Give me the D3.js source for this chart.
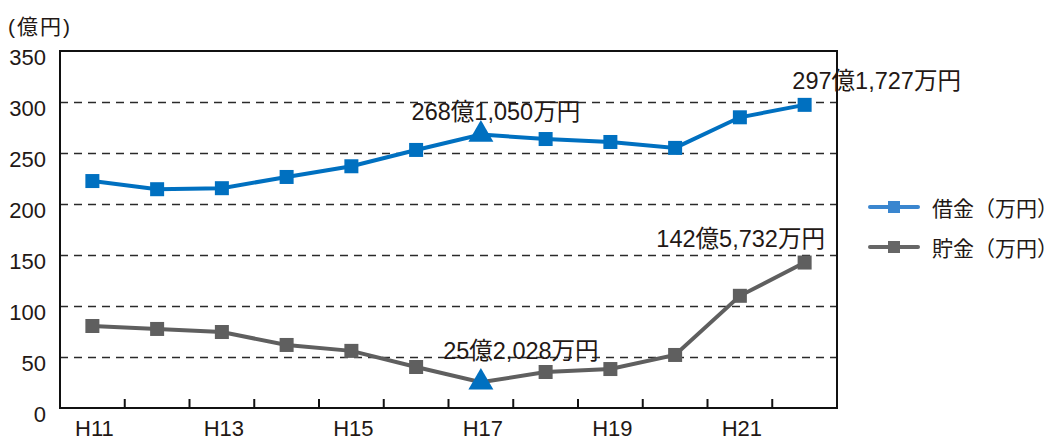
<!DOCTYPE html>
<html><head><meta charset="utf-8">
<script src="https://cdn.jsdelivr.net/npm/d3@7"></script>
<style>
body{margin:0;background:#fff;}
text{font-family:"Liberation Sans","Noto Sans CJK JP",sans-serif;fill:#231815;}
</style></head>
<body>
<svg id="chart" width="1050" height="437"></svg>
<script>
const categories = ["H11","H12","H13","H14","H15","H16","H17","H18","H19","H20","H21","H22"];
const tickLabels = ["H11","H13","H15","H17","H19","H21"];
const borrowing = [222.5, 214.5, 215.5, 226.5, 237, 253, 268.1, 263.7, 260.8, 255, 285, 297.2];
const savings = [80.4, 77.5, 74.5, 61.8, 56, 40.2, 25.2, 35.3, 38.2, 52, 110, 142.6];
const yTicks = [0,50,100,150,200,250,300,350];
const seriesNames = ["借金（万円）","貯金（万円）"];
const highlightIndex = 6;
const annotations = [
  {series:0, index:6, text:"268億1,050万円"},
  {series:0, index:11, text:"297億1,727万円"},
  {series:1, index:11, text:"142億5,732万円"},
  {series:1, index:6, text:"25億2,028万円"}
];

const svg = d3.select("#chart");
const L=60, R=837, T=51, B=408;
const x = d3.scaleBand().domain(categories).range([L,R]);
const y = d3.scaleLinear().domain([0,350]).range([B,T]);
const colors = ["#0070C0","#5F5F5F"];
const legendColors = ["#3A86CF","#666666"];

// grid
svg.append("g").selectAll("line").data(yTicks.filter(v=>v>0&&v<350)).join("line")
  .attr("x1",L).attr("x2",R).attr("y1",d=>Math.round(y(d))+0.5).attr("y2",d=>Math.round(y(d))+0.5)
  .attr("stroke","#2a2a2a").attr("stroke-width",1.3).attr("stroke-dasharray","8,6");

// frame
svg.append("rect").attr("x",L).attr("y",T).attr("width",R-L).attr("height",B-T)
  .attr("fill","none").attr("stroke","#111").attr("stroke-width",2);

// x ticks (boundaries)
const bounds = categories.slice(1).map(c=>x(c));
svg.append("g").selectAll("line").data(bounds).join("line")
  .attr("x1",d=>d).attr("x2",d=>d).attr("y1",B).attr("y2",B-9)
  .attr("stroke","#111").attr("stroke-width",2);

// y labels
svg.append("g").selectAll("text").data(yTicks).join("text")
  .attr("x",46).attr("y",d=>y(d)+14).attr("text-anchor","end")
  .attr("font-size",22).text(d=>d);
svg.append("text").attr("x",8).attr("y",34).attr("font-size",21)
  .attr("letter-spacing",2).text("(億円)");

// x labels
svg.append("g").selectAll("text").data(tickLabels).join("text")
  .attr("x",d=>x(d)+x.bandwidth()/2+2).attr("y",436).attr("text-anchor","middle")
  .attr("font-size",22).text(d=>d);

const cx = c=>x(c)+x.bandwidth()/2;
const line = d3.line().x((d,i)=>cx(categories[i])).y(d=>y(d));
const tri = d3.symbol().type(d3.symbolTriangle).size(270);

[borrowing, savings].forEach((data,si)=>{
  svg.append("path").datum(data).attr("d",line).attr("fill","none")
    .attr("stroke",colors[si]).attr("stroke-width",4);
  const g = svg.append("g");
  data.forEach((v,i)=>{
    if(i===highlightIndex){
      g.append("path").attr("d",tri).attr("fill","#0070C0")
        .attr("transform",`translate(${cx(categories[i])},${y(v)})`);
    } else {
      g.append("rect").attr("x",cx(categories[i])-7).attr("y",y(v)-7)
        .attr("width",14).attr("height",14).attr("fill",colors[si]);
    }
  });
});

// annotations
const annOffsets = [[15,-14.5],[72,-16],[-64,-15.5],[40,-23]];
annotations.forEach((a,k)=>{
  const data = a.series===0?borrowing:savings;
  svg.append("text")
    .attr("x",cx(categories[a.index])+annOffsets[k][0])
    .attr("y",y(data[a.index])+annOffsets[k][1])
    .attr("text-anchor","middle").attr("font-size",23.5).text(a.text);
});

// legend
seriesNames.forEach((n,i)=>{
  const ly = 207 + i*40;
  svg.append("line").attr("x1",870).attr("x2",918).attr("y1",ly).attr("y2",ly)
    .attr("stroke",legendColors[i]).attr("stroke-width",4).attr("stroke-linecap","round");
  svg.append("rect").attr("x",888).attr("y",ly-6).attr("width",12).attr("height",12).attr("fill",legendColors[i]);
  svg.append("text").attr("x",932).attr("y",ly+9).attr("font-size",21).text(n);
});
</script>
</body></html>
